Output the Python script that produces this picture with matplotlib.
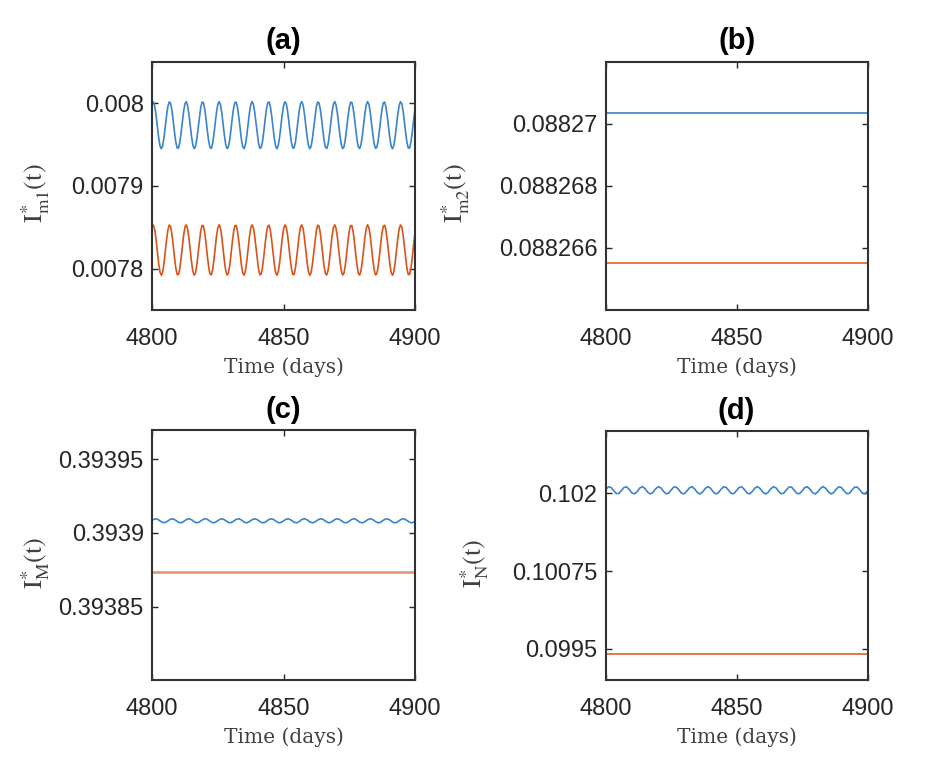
import numpy as np
import matplotlib
matplotlib.use('Agg')
import matplotlib.pyplot as plt

# time axes
days_half = np.arange(4800, 4900.5, 0.5)   # half-day samples, panel (a)
days = np.arange(4800, 4901)                # daily samples, panels (c), (d)
flat_days = [4800, 4900]                    # ends of the flat lines

# (a) I*_m1(t)
im1_blue = [0.0080002, 0.0080017, 0.0079963, 0.0079852, 0.0079714, 0.0079580, 0.0079484, 0.0079450, 0.0079485, 0.0079582,
            0.0079716, 0.0079855, 0.0079964, 0.0080017, 0.0080001, 0.0079920, 0.0079794, 0.0079653, 0.0079532, 0.0079461,
            0.0079457, 0.0079521, 0.0079638, 0.0079778, 0.0079907, 0.0079995, 0.0080019, 0.0079973, 0.0079869, 0.0079732,
            0.0079596, 0.0079494, 0.0079451, 0.0079477, 0.0079567, 0.0079697, 0.0079837, 0.0079952, 0.0080014, 0.0080008,
            0.0079934, 0.0079812, 0.0079671, 0.0079546, 0.0079467, 0.0079453, 0.0079508, 0.0079620, 0.0079759, 0.0079892,
            0.0079987, 0.0080020, 0.0079983, 0.0079886, 0.0079751, 0.0079613, 0.0079505, 0.0079452, 0.0079469, 0.0079552,
            0.0079679, 0.0079820, 0.0079940, 0.0080010, 0.0080013, 0.0079947, 0.0079830, 0.0079690, 0.0079561, 0.0079474,
            0.0079451, 0.0079498, 0.0079603, 0.0079740, 0.0079876, 0.0079978, 0.0080020, 0.0079992, 0.0079901, 0.0079770,
            0.0079630, 0.0079516, 0.0079456, 0.0079463, 0.0079538, 0.0079660, 0.0079801, 0.0079926, 0.0080004, 0.0080016,
            0.0079959, 0.0079848, 0.0079709, 0.0079576, 0.0079482, 0.0079450, 0.0079488, 0.0079586, 0.0079721, 0.0079860,
            0.0079967, 0.0080018, 0.0080000, 0.0079917, 0.0079789, 0.0079648, 0.0079529, 0.0079460, 0.0079458, 0.0079524,
            0.0079642, 0.0079783, 0.0079911, 0.0079997, 0.0080019, 0.0079971, 0.0079865, 0.0079727, 0.0079592, 0.0079491,
            0.0079450, 0.0079479, 0.0079571, 0.0079702, 0.0079842, 0.0079956, 0.0080015, 0.0080006, 0.0079931, 0.0079807,
            0.0079666, 0.0079542, 0.0079465, 0.0079454, 0.0079511, 0.0079625, 0.0079764, 0.0079897, 0.0079989, 0.0080020,
            0.0079981, 0.0079882, 0.0079746, 0.0079608, 0.0079502, 0.0079452, 0.0079471, 0.0079556, 0.0079684, 0.0079824,
            0.0079943, 0.0080011, 0.0080011, 0.0079944, 0.0079826, 0.0079685, 0.0079557, 0.0079472, 0.0079452, 0.0079501,
            0.0079607, 0.0079745, 0.0079880, 0.0079980, 0.0080020, 0.0079990, 0.0079897, 0.0079765, 0.0079626, 0.0079513,
            0.0079455, 0.0079465, 0.0079542, 0.0079665, 0.0079806, 0.0079930, 0.0080006, 0.0080015, 0.0079956, 0.0079843,
            0.0079704, 0.0079572, 0.0079479, 0.0079450, 0.0079491, 0.0079591, 0.0079726, 0.0079864, 0.0079970, 0.0080019,
            0.0079998, 0.0079913, 0.0079784, 0.0079643, 0.0079525, 0.0079458, 0.0079459, 0.0079528, 0.0079647, 0.0079788,
            0.0079916]
im1_orange = [0.0078511, 0.0078527, 0.0078468, 0.0078351, 0.0078202, 0.0078059, 0.0077957, 0.0077920, 0.0077958, 0.0078061,
              0.0078205, 0.0078353, 0.0078470, 0.0078527, 0.0078510, 0.0078423, 0.0078288, 0.0078137, 0.0078008, 0.0077932,
              0.0077928, 0.0077996, 0.0078121, 0.0078271, 0.0078409, 0.0078504, 0.0078529, 0.0078480, 0.0078369, 0.0078222,
              0.0078076, 0.0077967, 0.0077921, 0.0077949, 0.0078046, 0.0078185, 0.0078335, 0.0078458, 0.0078524, 0.0078517,
              0.0078438, 0.0078308, 0.0078157, 0.0078023, 0.0077938, 0.0077924, 0.0077982, 0.0078102, 0.0078251, 0.0078393,
              0.0078495, 0.0078530, 0.0078491, 0.0078386, 0.0078242, 0.0078094, 0.0077978, 0.0077923, 0.0077941, 0.0078029,
              0.0078165, 0.0078316, 0.0078444, 0.0078519, 0.0078522, 0.0078452, 0.0078327, 0.0078177, 0.0078039, 0.0077945,
              0.0077921, 0.0077971, 0.0078084, 0.0078231, 0.0078376, 0.0078485, 0.0078530, 0.0078500, 0.0078403, 0.0078263,
              0.0078113, 0.0077991, 0.0077926, 0.0077934, 0.0078014, 0.0078145, 0.0078296, 0.0078430, 0.0078513, 0.0078526,
              0.0078465, 0.0078346, 0.0078197, 0.0078055, 0.0077954, 0.0077920, 0.0077961, 0.0078066, 0.0078210, 0.0078358,
              0.0078473, 0.0078528, 0.0078508, 0.0078419, 0.0078283, 0.0078132, 0.0078004, 0.0077930, 0.0077929, 0.0078000,
              0.0078126, 0.0078276, 0.0078414, 0.0078506, 0.0078529, 0.0078477, 0.0078364, 0.0078217, 0.0078072, 0.0077964,
              0.0077920, 0.0077951, 0.0078050, 0.0078190, 0.0078340, 0.0078461, 0.0078525, 0.0078515, 0.0078434, 0.0078302,
              0.0078152, 0.0078019, 0.0077936, 0.0077925, 0.0077985, 0.0078107, 0.0078256, 0.0078398, 0.0078497, 0.0078530,
              0.0078488, 0.0078382, 0.0078237, 0.0078089, 0.0077975, 0.0077922, 0.0077943, 0.0078033, 0.0078170, 0.0078321,
              0.0078448, 0.0078520, 0.0078521, 0.0078449, 0.0078322, 0.0078171, 0.0078034, 0.0077943, 0.0077922, 0.0077974,
              0.0078088, 0.0078236, 0.0078381, 0.0078487, 0.0078530, 0.0078498, 0.0078399, 0.0078257, 0.0078108, 0.0077987,
              0.0077925, 0.0077936, 0.0078018, 0.0078150, 0.0078301, 0.0078433, 0.0078515, 0.0078525, 0.0078462, 0.0078341,
              0.0078191, 0.0078050, 0.0077951, 0.0077920, 0.0077964, 0.0078071, 0.0078216, 0.0078363, 0.0078477, 0.0078528,
              0.0078506, 0.0078415, 0.0078277, 0.0078127, 0.0078001, 0.0077929, 0.0077930, 0.0078003, 0.0078131, 0.0078281,
              0.0078418]

# (b) I*_m2(t) -- both flat
im2_blue = [0.08827035, 0.08827035]
im2_orange = [0.0882655, 0.0882655]

# (c) I*_M(t)
iM_blue = [0.3939086, 0.3939096, 0.3939094, 0.3939082, 0.3939071, 0.3939071, 0.3939082, 0.3939094, 0.3939096, 0.3939086,
           0.3939073, 0.3939069, 0.3939078, 0.3939091, 0.3939097, 0.3939090, 0.3939076, 0.3939069, 0.3939075, 0.3939088,
           0.3939097, 0.3939093, 0.3939080, 0.3939070, 0.3939072, 0.3939084, 0.3939095, 0.3939095, 0.3939084, 0.3939072,
           0.3939070, 0.3939080, 0.3939093, 0.3939097, 0.3939088, 0.3939074, 0.3939069, 0.3939077, 0.3939090, 0.3939097,
           0.3939091, 0.3939078, 0.3939069, 0.3939073, 0.3939086, 0.3939096, 0.3939094, 0.3939082, 0.3939070, 0.3939071,
           0.3939082, 0.3939094, 0.3939096, 0.3939086, 0.3939073, 0.3939069, 0.3939078, 0.3939092, 0.3939097, 0.3939089,
           0.3939076, 0.3939069, 0.3939075, 0.3939088, 0.3939097, 0.3939093, 0.3939080, 0.3939070, 0.3939072, 0.3939084,
           0.3939096, 0.3939095, 0.3939084, 0.3939071, 0.3939070, 0.3939080, 0.3939093, 0.3939097, 0.3939087, 0.3939074,
           0.3939069, 0.3939077, 0.3939090, 0.3939097, 0.3939091, 0.3939078, 0.3939069, 0.3939073, 0.3939087, 0.3939096,
           0.3939094, 0.3939081, 0.3939070, 0.3939071, 0.3939083, 0.3939095, 0.3939096, 0.3939085, 0.3939073, 0.3939069,
           0.3939079]
iM_orange = [0.3938734, 0.3938734]

# (d) I*_N(t)
iN_blue = [0.102061, 0.102103, 0.102095, 0.102044, 0.101996, 0.101996, 0.102044, 0.102095, 0.102103, 0.102060,
           0.102006, 0.101991, 0.102028, 0.102084, 0.102107, 0.102076, 0.102019, 0.101989, 0.102013, 0.102069,
           0.102106, 0.102089, 0.102035, 0.101992, 0.102001, 0.102053, 0.102100, 0.102099, 0.102051, 0.102000,
           0.101993, 0.102036, 0.102090, 0.102105, 0.102068, 0.102012, 0.101989, 0.102021, 0.102077, 0.102107,
           0.102082, 0.102026, 0.101990, 0.102007, 0.102062, 0.102104, 0.102095, 0.102043, 0.101996, 0.101997,
           0.102045, 0.102096, 0.102103, 0.102059, 0.102005, 0.101991, 0.102029, 0.102085, 0.102107, 0.102075,
           0.102018, 0.101989, 0.102014, 0.102070, 0.102106, 0.102089, 0.102034, 0.101992, 0.102002, 0.102054,
           0.102101, 0.102099, 0.102050, 0.102000, 0.101993, 0.102037, 0.102091, 0.102105, 0.102067, 0.102011,
           0.101989, 0.102022, 0.102078, 0.102107, 0.102082, 0.102025, 0.101990, 0.102008, 0.102063, 0.102104,
           0.102094, 0.102042, 0.101995, 0.101997, 0.102046, 0.102097, 0.102102, 0.102058, 0.102005, 0.101991,
           0.102030]
iN_orange = [0.09942, 0.09942]

xticks = [4800, 4850, 4900]
BLUE = '#3a84cc'
ORANGE = '#D95319'
DARK = '#262626'
GREY = '#404040'

plt.rcParams['mathtext.fontset'] = 'stix'

fig = plt.figure(figsize=(9.45, 7.74), dpi=100)

panels = [
    # rect, title, ylabel, ylim, ytick labels, ylabel x
    ([0.161, 0.5995, 0.278, 0.3205], '(a)', r'$\mathrm{I}^{*}_{\mathrm{m1}}(\mathrm{t})$',
     (0.00775, 0.00805), ['0.0078', '0.0079', '0.008'], -0.38),
    ([0.641, 0.5995, 0.277, 0.3205], '(b)', r'$\mathrm{I}^{*}_{\mathrm{m2}}(\mathrm{t})$',
     (0.088264, 0.088272), ['0.088266', '0.088268', '0.08827'], -0.51),
    ([0.161, 0.1214, 0.278, 0.3230], '(c)', r'$\mathrm{I}^{*}_{\mathrm{M}}(\mathrm{t})$',
     (0.3938, 0.39397), ['0.39385', '0.3939', '0.39395'], -0.38),
    ([0.641, 0.1214, 0.277, 0.3217], '(d)', r'$\mathrm{I}^{*}_{\mathrm{N}}(\mathrm{t})$',
     (0.099, 0.103), ['0.0995', '0.10075', '0.102'], -0.44),
]

series = [
    [(days_half, im1_blue, BLUE, 1.2), (days_half, im1_orange, ORANGE, 1.2)],
    [(flat_days, im2_blue, BLUE, 1.2), (flat_days, im2_orange, ORANGE, 1.1)],
    [(days, iM_blue, BLUE, 1.2), (flat_days, iM_orange, '#e0926d', 1.8)],
    [(days, iN_blue, BLUE, 1.2), (flat_days, iN_orange, ORANGE, 1.1)],
]

for (rect, title, ylab, ylim, ytl, ylx), lines in zip(panels, series):
    ax = fig.add_axes(rect)
    for x, y, c, lw in lines:
        ax.plot(x, y, color=c, lw=lw)
    ax.set_xlim(4800, 4900)
    ax.set_ylim(*ylim)
    ax.set_xticks(xticks)
    ax.set_xticklabels([str(t) for t in xticks])
    ax.set_yticks([float(s) for s in ytl])
    ax.set_yticklabels(ytl)
    ax.tick_params(direction='in', length=4, width=1, colors=DARK, labelsize=17,
                   top=True, right=True)
    ax.tick_params(axis='x', pad=13)
    ax.tick_params(axis='y', pad=6)
    for lab in ax.get_xticklabels() + ax.get_yticklabels():
        lab.set_family('Liberation Sans')
    for s in ax.spines.values():
        s.set_color('#333333')
        s.set_linewidth(1.5)
    ax.set_title(title, fontsize=21, fontweight='bold', family='Liberation Sans', pad=9)
    ax.set_xlabel('Time (days)', fontsize=14.5, family='DejaVu Serif', color=GREY)
    ax.xaxis.set_label_coords(0.5, -0.19)
    ax.set_ylabel(ylab, fontsize=19, color=GREY)
    ax.yaxis.set_label_coords(ylx, 0.47)

fig.savefig('out.png', dpi=100)
